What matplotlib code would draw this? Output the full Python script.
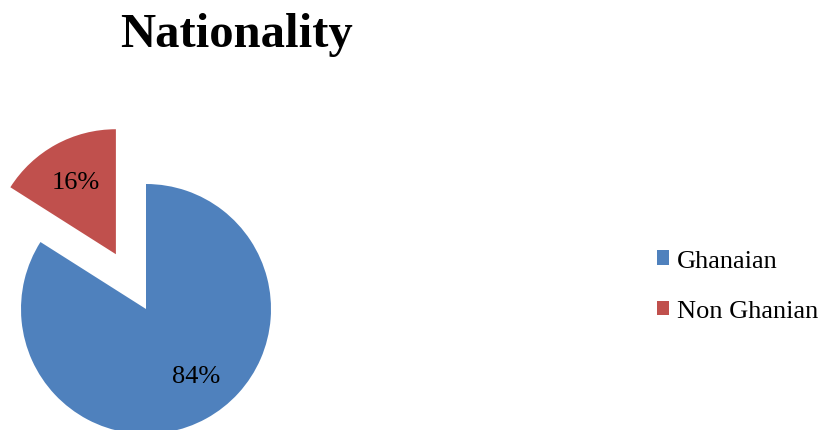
import matplotlib.pyplot as plt
from matplotlib.patches import Patch

plt.rcParams['font.family'] = ['Liberation Serif', 'DejaVu Serif']

# data
labels = ['Ghanaian', 'Non Ghanian']
shares = [84, 16]
colors = ['#4F81BD', '#C0504D']
explode = [0, 0.5]

W, H = 822, 431
fig = plt.figure(figsize=(W / 100, H / 100), dpi=100)

# pie axes: centre at (146, 310) px, radius 125 px
cx, cy, r = 146, 310, 125
ax_w = 330
ax = fig.add_axes([0, 0, ax_w / W, 1])
wedges, texts, autotexts = ax.pie(
    shares, colors=colors, explode=explode, startangle=90,
    counterclock=False, autopct='%1.0f%%', pctdistance=0.66,
    textprops={'fontsize': 19, 'color': 'black'},
    wedgeprops={'linewidth': 0})
# Excel puts the big label a bit further right
autotexts[0].set_position((50 / r, -67 / r))
ax.set_aspect('auto')
ax.set_xlim(-cx / r, (ax_w - cx) / r)
ax.set_ylim((cy - H) / r, cy / r)
ax.axis('off')

fig.text(236 / W, 1 - 35 / H, 'Nationality', fontsize=35, fontweight='bold',
         ha='center', va='center')

handles = [Patch(facecolor=c, edgecolor='none') for c in colors]
fig.legend(handles, labels, loc='center left',
           bbox_to_anchor=(657 / W, 1 - 287 / H), bbox_transform=fig.transFigure,
           frameon=False, fontsize=19, borderpad=0, borderaxespad=0,
           handlelength=0.45, handleheight=0.45, handletextpad=0.3,
           labelspacing=1.07)

fig.savefig('out.png', dpi=100)
